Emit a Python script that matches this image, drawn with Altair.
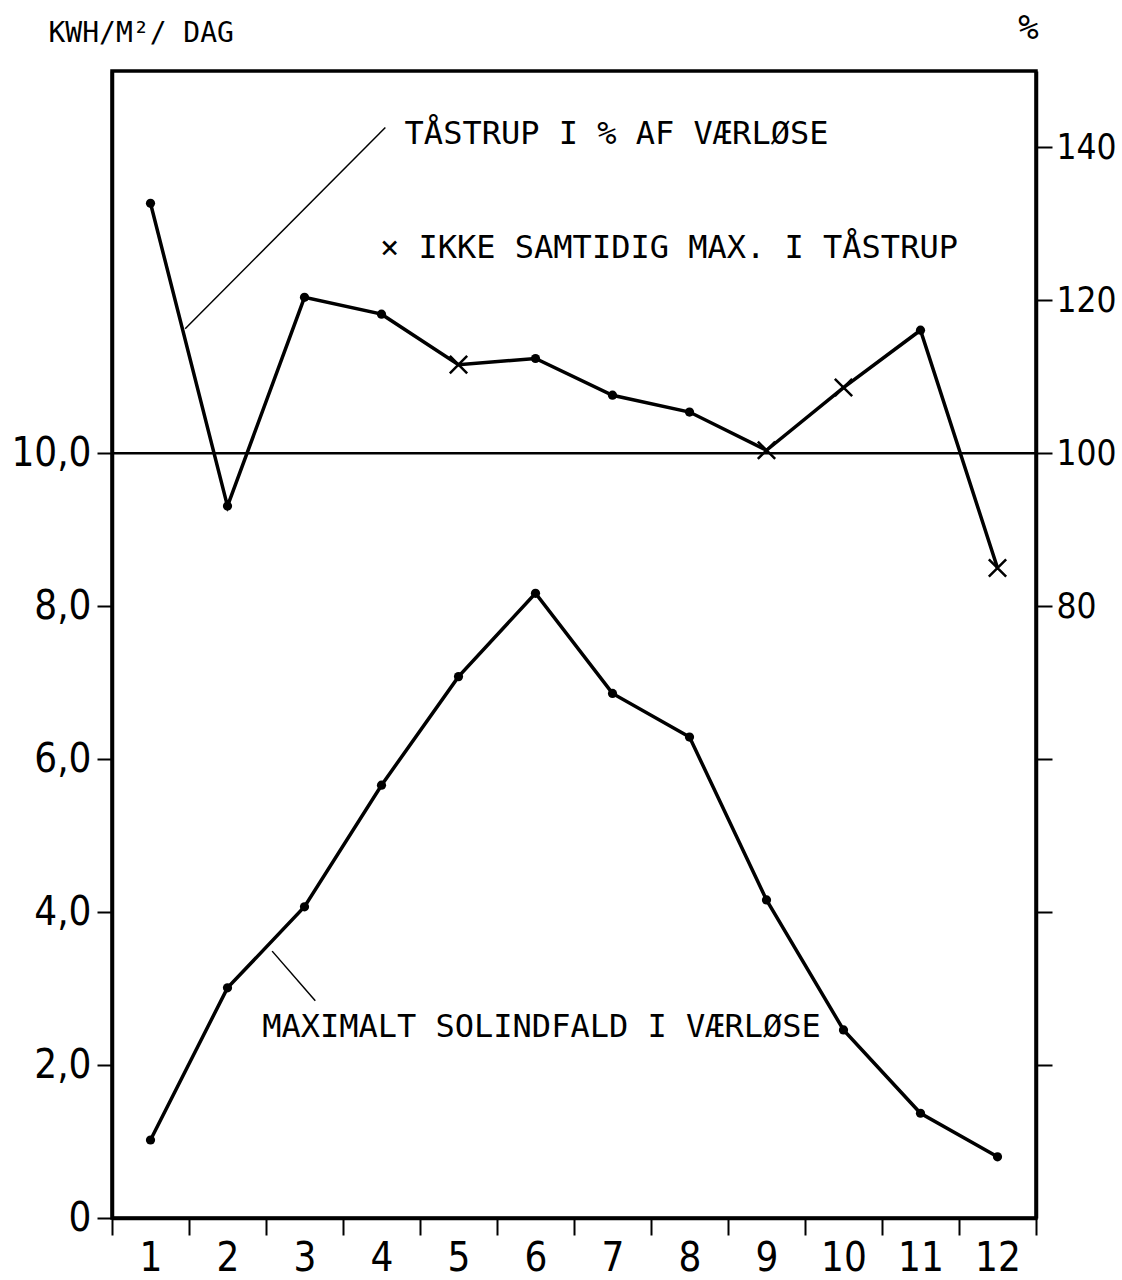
import altair as alt
import pandas as pd

# ---- data ----
months = list(range(1, 13))
solar_vaerloese = [1.02, 3.01, 4.07, 5.66, 7.08, 8.17, 6.86, 6.29, 4.16, 2.46, 1.37, 0.80]
taastrup_pct = [132.7, 93.1, 120.4, 118.2, 111.6, 112.4, 107.6, 105.4, 100.4, 108.6, 116.1, 85.0]
not_simultaneous = [False, False, False, False, True, False, False, False, True, True, False, True]

left_ticks = [0, 2, 4, 6, 8, 10]
right_ticks = [20, 40, 60, 80, 100, 120, 140]
x_tick_positions = [0.5 + i for i in range(13)]

ann_text = ["TÅSTRUP I % AF VÆRLØSE", "× IKKE SAMTIDIG MAX. I TÅSTRUP", "MAXIMALT SOLINDFALD I VÆRLØSE"]
ann_x = [4.30, 3.98, 2.45]
ann_y = [14.05, 12.55, 2.37]

lead_x = [4.05, 2.58]
lead_y = [14.26, 3.49]
lead_x2 = [1.45, 3.14]
lead_y2 = [11.63, 2.84]

W, H = 924, 1147
FONT_NUM = "DejaVu Sans Condensed, DejaVu Sans, sans-serif"
FONT_TXT = "DejaVu Sans Mono, monospace"

df = pd.DataFrame({"month": months, "solar": solar_vaerloese, "pct": taastrup_pct,
                   "cross": not_simultaneous})
ann = pd.DataFrame({"text": ann_text, "x": ann_x, "y": ann_y})
lead = pd.DataFrame({"x": lead_x, "y": lead_y, "x2": lead_x2, "y2": lead_y2})
ref = pd.DataFrame({"ref": [100]})

xs = alt.Scale(domain=[0.5, 12.5], nice=False, zero=False)
yl = alt.Scale(domain=[0, 15], nice=False, zero=True)
yr = alt.Scale(domain=[0, 150], nice=False, zero=True)

base = alt.Chart(df)

lower_line = base.mark_line(color="black", strokeWidth=3.5).encode(
    x=alt.X("month:Q", scale=xs, axis=alt.Axis(
        orient="bottom", values=x_tick_positions, labels=False, ticks=True, tickSize=17,
        tickWidth=2, tickColor="black", domain=True, domainColor="black", domainWidth=3.5,
        grid=False, title=None, offset=0)),
    y=alt.Y("solar:Q", scale=yl, axis=alt.Axis(
        orient="left", values=left_ticks,
        labelExpr="datum.value == 0 ? '0' : replace(format(datum.value, '.1f'), '.', ',')",
        tickSize=15, tickWidth=2, tickColor="black", domainColor="black", domainWidth=3.5,
        labelFont=FONT_NUM, labelFontSize=40, labelColor="black", labelPadding=6,
        grid=False, offset=0,
        title="KWH/M²/ DAG", titleAngle=0, titleX=-64, titleY=-30, titleAlign="left",
        titleBaseline="alphabetic", titleFont=FONT_TXT, titleFontSize=28,
        titleFontWeight="normal", titleColor="black")),
)

lower_points = base.mark_circle(color="black", size=85, opacity=1).encode(
    x=alt.X("month:Q", scale=xs, axis=alt.Axis(
        orient="bottom", values=months, ticks=False, domain=False, labels=True,
        labelFont=FONT_NUM, labelFontSize=40, labelColor="black", labelPadding=20,
        labelBaseline="top", grid=False, title=None, offset=0)),
    y=alt.Y("solar:Q", scale=yl, axis=None),
)

upper_line = base.mark_line(color="black", strokeWidth=3.5).encode(
    x=alt.X("month:Q", scale=xs, axis=None),
    y=alt.Y("pct:Q", scale=yr, axis=alt.Axis(
        orient="right", values=right_ticks,
        labelExpr="datum.value >= 80 ? format(datum.value, 'd') : ''",
        tickSize=16, tickWidth=2, tickColor="black", domainColor="black", domainWidth=3.5,
        labelFont=FONT_NUM, labelFontSize=35, labelColor="black", labelPadding=4,
        grid=False, offset=0,
        title="%", titleAngle=0, titleX=-8, titleY=-33, titleAlign="center",
        titleBaseline="alphabetic", titleFont=FONT_TXT, titleFontSize=34,
        titleFontWeight="normal", titleColor="black")),
)

upper_dots = base.transform_filter("!datum.cross").mark_circle(
    color="black", size=85, opacity=1).encode(
    x=alt.X("month:Q", scale=xs, axis=None),
    y=alt.Y("pct:Q", scale=yr, axis=None),
)

upper_crosses = base.transform_filter("datum.cross").mark_point(
    shape="M-1,-1L1,1M-1,1L1,-1", size=300, strokeWidth=2.5, filled=False,
    color="black", opacity=1).encode(
    x=alt.X("month:Q", scale=xs, axis=None),
    y=alt.Y("pct:Q", scale=yr, axis=None),
)

ref_rule = alt.Chart(ref).mark_rule(color="black", strokeWidth=2.5).encode(
    y=alt.Y("ref:Q", scale=yr, axis=None),
)

texts = alt.Chart(ann).mark_text(
    align="left", baseline="alphabetic", font=FONT_TXT, fontSize=32, color="black").encode(
    x=alt.X("x:Q", scale=xs, axis=None),
    y=alt.Y("y:Q", scale=yl, axis=None),
    text="text:N",
)

leaders = alt.Chart(lead).mark_rule(color="black", strokeWidth=1.5).encode(
    x=alt.X("x:Q", scale=xs, axis=None),
    y=alt.Y("y:Q", scale=yl, axis=None),
    x2="x2:Q",
    y2="y2:Q",
)

chart = alt.layer(
    ref_rule, lower_line, lower_points, upper_line, upper_dots, upper_crosses,
    leaders, texts,
).resolve_scale(x="independent", y="independent").properties(
    width=W, height=H,
    autosize=alt.AutoSizeParams(type="none"),
    padding={"left": 112, "top": 71, "right": 86, "bottom": 62},
    background="white",
).configure_view(stroke="black", strokeWidth=3.5)

chart.save("out.html", embed_options={"renderer": "svg", "actions": False})
